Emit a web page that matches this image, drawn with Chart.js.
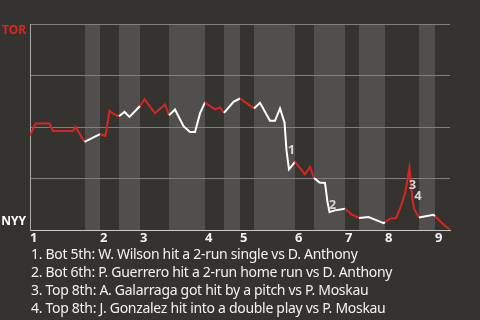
<!DOCTYPE html>
<html>
<head>
<meta charset="utf-8">
<script src="https://cdn.jsdelivr.net/npm/chart.js@4.4.1/dist/chart.umd.min.js"></script>
<style>
  body { margin: 0; background: #353330; width: 480px; height: 320px; overflow: hidden; position: relative; font-family: "Noto Sans", sans-serif; }
  #myChart { position: absolute; left: 0; top: 0; }
  #notes { position: absolute; left: 31px; top: 245px; color: #f2f2f2; font-size: 14px; line-height: 18px; letter-spacing: -0.3px; white-space: nowrap; }
</style>
</head>
<body>
<canvas id="myChart" width="480" height="246"></canvas>
<div id="notes"></div>
<script>
// plate appearance index and Toronto win probability (%)
const paIndex = [0, 1.1, 3.9, 4.6, 8.6, 9.1, 10.9, 14, 15.1, 15.9, 16.8, 17.8, 18.9, 19.9, 22,
  22.9, 25, 27, 27.8, 29, 30.7, 32, 33, 34, 35, 37, 38, 38.8, 40.7, 42, 44.8, 46, 48, 49, 50,
  50.9, 51.3, 51.8, 53, 55, 56, 56.8, 57.9, 59, 59.5, 59.9, 61, 63, 64.3, 65.8, 67.7, 69, 70.7,
  71, 72, 73.2, 74, 75, 75.9, 76.5, 76.8, 77.8, 80.7, 81, 82.7, 84];
const torWinPct = [46.1, 51.8, 51.8, 48.2, 48.2, 50.1, 42.9, 46.6, 45.8, 57.9, 56.3, 55.3, 57.4, 55.0, 60.3,
  63.6, 56.7, 61.0, 55.8, 58.6, 50.5, 47.7, 47.7, 56.7, 62.0, 58.6, 59.6, 56.9, 62.3, 63.9, 59.1, 61.8, 53.1, 53.1, 59.1,
  52.3, 38.8, 29.6, 33.2, 27.2, 30.7, 25.4, 23.2, 23.0, 13.7, 8.9, 9.7, 10.5, 7.8, 6.0, 6.5, 5.2, 3.5,
  4.0, 5.7, 6.0, 10.5, 17.8, 30.4, 14.6, 10.5, 6.3, 7.6, 6.9, 2.9, 0.3];

// innings: where each inning starts and where its bottom half starts
const inningLabels = ["1", "2", "3", "4", "5", "6", "7", "8", "9"];
const inningStart = [0, 14, 22, 35, 42, 53, 63, 71, 81];
const bottomStart = [10.9, 17.8, 27.8, 38.8, 44.8, 56.8, 65.8, 77.8, null];
const gameEnd = 84;

// team names at the two ends of the y axis
const teamTop = "TOR";
const teamBottom = "NYY";

// key plays
const noteLabels = ["1", "2", "3", "4"];
const noteX = [52.3, 60.5, 76.5, 77.6];
const noteY = [38.6, 12.1, 21.8, 16.3];
const noteTexts = [
  "Bot 5th: W. Wilson hit a 2-run single vs D. Anthony",
  "Bot 6th: P. Guerrero hit a 2-run home run vs D. Anthony",
  "Top 8th: A. Galarraga got hit by a pitch vs P. Moskau",
  "Top 8th: J. Gonzalez hit into a double play vs P. Moskau"
];

const RED = "#d8261f";
const WHITE = "#ffffff";
const BAND = "#504f4d";
const FONT = "'Noto Sans', sans-serif";

function inningEnd(i) {
  return i + 1 < inningStart.length ? inningStart[i + 1] : gameEnd;
}

function isBottomHalf(x) {
  for (let i = 0; i < inningStart.length; i++) {
    if (bottomStart[i] !== null && x >= bottomStart[i] && x < inningEnd(i)) return true;
  }
  return false;
}

// shade the bottom half of every inning
const bandPlugin = {
  id: "bands",
  beforeDraw(chart) {
    const { ctx, chartArea, scales } = chart;
    ctx.save();
    ctx.fillStyle = BAND;
    bottomStart.forEach((s, i) => {
      if (s === null) return;
      const x0 = Math.round(scales.x.getPixelForValue(s));
      const x1 = Math.round(scales.x.getPixelForValue(inningEnd(i)));
      ctx.fillRect(x0, chartArea.top, x1 - x0, chartArea.bottom - chartArea.top);
    });
    ctx.restore();
  }
};

// team names and the numbers for the key plays
const labelPlugin = {
  id: "labels",
  afterDatasetsDraw(chart) {
    const { ctx, chartArea, scales } = chart;
    ctx.save();
    ctx.font = "bold 12px " + FONT;
    ctx.textAlign = "right";
    ctx.textBaseline = "middle";
    ctx.fillStyle = RED;
    ctx.fillText(teamTop, chartArea.left - 4, scales.y.getPixelForValue(100) + 7);
    ctx.fillStyle = WHITE;
    ctx.fillText(teamBottom, chartArea.left - 4, scales.y.getPixelForValue(0) - 9);

    ctx.font = "bold 13px " + FONT;
    ctx.fillStyle = "#d4d4d4";
    ctx.textAlign = "center";
    noteLabels.forEach((t, i) => {
      ctx.fillText(t, scales.x.getPixelForValue(noteX[i]), scales.y.getPixelForValue(noteY[i]));
    });
    ctx.restore();
  }
};

const ctx = document.getElementById("myChart").getContext("2d");
new Chart(ctx, {
  type: "line",
  data: {
    datasets: [{
      data: paIndex.map((x, i) => ({ x: x, y: torWinPct[i] })),
      borderColor: RED,
      borderWidth: 2,
      pointRadius: 0,
      tension: 0,
      segment: {
        borderColor: c => isBottomHalf(c.p0.parsed.x) ? WHITE : RED
      }
    }]
  },
  options: {
    responsive: false,
    animation: false,
    devicePixelRatio: 1,
    layout: { padding: { left: 0, right: 30, top: 24, bottom: 0 } },
    plugins: { legend: { display: false }, tooltip: { enabled: false } },
    scales: {
      x: {
        type: "linear",
        min: 0,
        max: gameEnd,
        afterBuildTicks: s => { s.ticks = inningStart.map(v => ({ value: v })); },
        grid: { display: false, drawTicks: false },
        border: { color: "#c8c8c8", width: 1 },
        ticks: {
          autoSkip: false,
          maxRotation: 0,
          align: "start",
          padding: 0,
          color: "#f2f2f2",
          font: { family: FONT, size: 13, weight: "bold" },
          callback: (v, i) => inningLabels[i]
        }
      },
      y: {
        min: 0,
        max: 100,
        afterFit: s => { s.width = 30; },
        grid: {
          drawTicks: false,
          color: c => c.tick && c.tick.value === 0 ? "rgba(0,0,0,0)" : "#807f7d"
        },
        border: { color: "#a8a8a8", width: 1 },
        ticks: { display: false, stepSize: 25 }
      }
    }
  },
  plugins: [bandPlugin, labelPlugin]
});

const notes = document.getElementById("notes");
noteTexts.forEach((t, i) => {
  const d = document.createElement("div");
  d.textContent = noteLabels[i] + ". " + t;
  notes.appendChild(d);
});
</script>
</body>
</html>
